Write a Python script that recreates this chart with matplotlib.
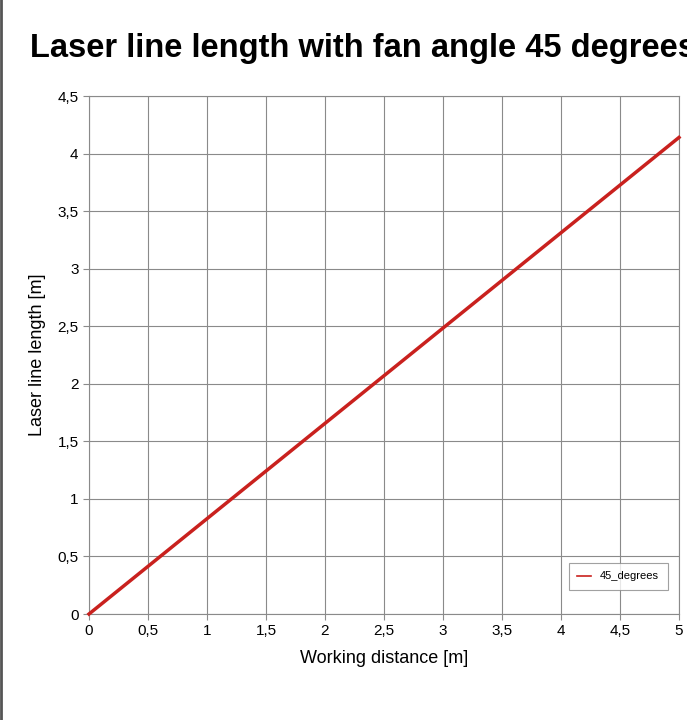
import matplotlib
matplotlib.use("Agg")
import matplotlib.pyplot as plt
from matplotlib.ticker import FuncFormatter

x_vals = [0, 5]
y_vals = [0, 4.14]
xticks = [0, 0.5, 1, 1.5, 2, 2.5, 3, 3.5, 4, 4.5, 5]
yticks = [0, 0.5, 1, 1.5, 2, 2.5, 3, 3.5, 4, 4.5]

plt.rcParams['font.family'] = ['Liberation Sans', 'DejaVu Sans']
fig = plt.figure(figsize=(6.87, 7.2), dpi=100)
ax = fig.add_axes([89/687, 1-614/720, 590/687, 518/720])
line, = ax.plot(x_vals, y_vals, color='#c9211e', lw=2.5, label='45_degrees', clip_on=False, zorder=3)
ax.set_xlim(0, 5); ax.set_ylim(0, 4.5)
ax.set_xticks(xticks); ax.set_yticks(yticks)
fmt = FuncFormatter(lambda v, p: ('%g' % v).replace('.', ','))
ax.xaxis.set_major_formatter(fmt); ax.yaxis.set_major_formatter(fmt)
ax.grid(True, color='#8a8a8a', lw=0.8)
for s in ax.spines.values():
    s.set_color('#8a8a8a'); s.set_linewidth(0.8)
ax.tick_params(labelsize=11, color='#8a8a8a', length=4)
ax.set_xlabel('Working distance [m]', fontsize=13, labelpad=8)
ax.set_ylabel('Laser line length [m]', fontsize=13, labelpad=8)
fig.text(30/687, 1-48/720, 'Laser line length with fan angle 45 degrees', fontsize=23.5,
         fontweight='bold', va='center', ha='left')
leg = ax.legend(loc='lower right', fontsize=8, frameon=True, fancybox=False,
                edgecolor='#8a8a8a', handlelength=1.2, borderpad=0.8,
                bbox_to_anchor=(0.99, 0.035))
leg.get_frame().set_linewidth(0.8)
for h in leg.get_lines():
    h.set_linewidth(1.2)
fig.add_artist(plt.Line2D([1/687, 1/687], [0, 1], color='#555555', lw=2))
fig.savefig('out.png', dpi=100)
